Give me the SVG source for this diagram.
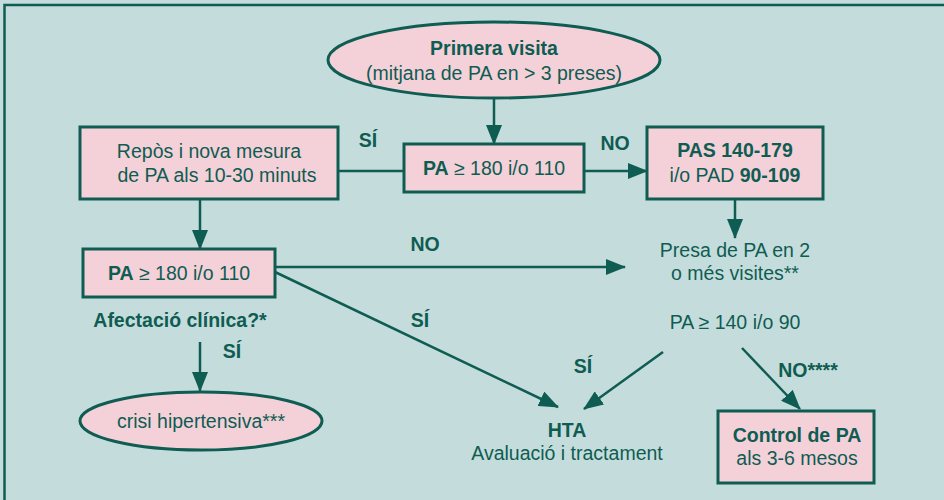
<svg xmlns="http://www.w3.org/2000/svg" width="944" height="500" viewBox="0 0 944 500">
<defs>
<marker id="ah" markerUnits="userSpaceOnUse" markerWidth="20" markerHeight="16" viewBox="0 0 20 16" refX="19" refY="8" orient="auto">
<path d="M0,0 L20,8 L0,16 Z" fill="#0f5c52"/>
</marker>
<style>
.node{fill:#f4d1d9;stroke:#0f5c52;stroke-width:3}
.c{fill:none;stroke:#0f5c52;stroke-width:2.5}
.a{fill:none;stroke:#0f5c52;stroke-width:2.5;marker-end:url(#ah)}
text{font-family:"Liberation Sans",Arial,sans-serif;font-size:19.5px;fill:#0f5c52;text-anchor:middle}
.b{font-weight:bold}
.l{font-weight:bold;font-size:19.5px}
</style>
</defs>
<rect x="0" y="0" width="944" height="500" fill="#c5dcdc"/>
<path d="M4.5,505 L4.5,5 L950,5" fill="none" stroke="#0f5c52" stroke-width="2.5"/>

<g id="connectors">
<line class="a" x1="494" y1="98" x2="494" y2="144"/>
<line class="c" x1="338" y1="171" x2="404" y2="171"/>
<line class="a" x1="584" y1="171" x2="647" y2="171"/>
<line class="a" x1="200" y1="199" x2="200" y2="249"/>
<line class="a" x1="735" y1="199" x2="735" y2="238"/>
<line class="a" x1="275" y1="267" x2="625" y2="267"/>
<line class="a" x1="275" y1="272" x2="558" y2="407"/>
<line class="a" x1="200" y1="342" x2="200" y2="391"/>
<line class="a" x1="663" y1="352" x2="584" y2="409"/>
<line class="a" x1="742" y1="348" x2="800" y2="409"/>
<text class="l" x="368" y="147">SÍ</text>
<text class="l" x="615" y="150">NO</text>
<text class="l" x="425" y="251">NO</text>
<text class="l" x="420" y="327">SÍ</text>
<text class="l" x="232" y="358">SÍ</text>
<text class="l" x="583" y="373">SÍ</text>
<text class="l" x="808" y="377">NO****</text>
</g>

<g id="primera-visita">
<ellipse class="node" cx="494" cy="60" rx="166" ry="38"/>
<text class="b" x="494" y="55">Primera visita</text>
<text x="494" y="80">(mitjana de PA en &gt; 3 preses)</text>
</g>

<g id="repos">
<rect class="node" x="80" y="127" width="258" height="72"/>
<text x="209" y="158">Repòs i nova mesura</text>
<text x="217" y="182">de PA als 10-30 minuts</text>
</g>

<g id="pa180-1">
<rect class="node" x="404" y="144" width="180" height="48"/>
<text x="494" y="175"><tspan class="b">PA</tspan> ≥ 180 i/o 110</text>
</g>

<g id="pas">
<rect class="node" x="647" y="127" width="176" height="72"/>
<text class="b" x="735" y="157">PAS 140-179</text>
<text x="735" y="182">i/o PAD <tspan class="b">90-109</tspan></text>
</g>

<g id="presa">
<text x="735" y="257">Presa de PA en 2</text>
<text x="735" y="280">o més visites**</text>
<text x="735" y="329">PA ≥ 140 i/o 90</text>
</g>

<g id="pa180-2">
<rect class="node" x="83" y="249" width="192" height="48"/>
<text x="179" y="280"><tspan class="b">PA</tspan> ≥ 180 i/o 110</text>
<text class="b" x="180" y="327">Afectació clínica?*</text>
</g>

<g id="crisi">
<ellipse class="node" cx="201" cy="421" rx="121" ry="29"/>
<text x="201" y="428">crisi hipertensiva***</text>
</g>

<g id="hta">
<text class="b" x="567" y="437">HTA</text>
<text x="567" y="460">Avaluació i tractament</text>
</g>

<g id="control">
<rect class="node" x="718" y="411" width="156" height="72"/>
<text class="b" x="797" y="442">Control de PA</text>
<text x="797" y="465">als 3-6 mesos</text>
</g>
</svg>
